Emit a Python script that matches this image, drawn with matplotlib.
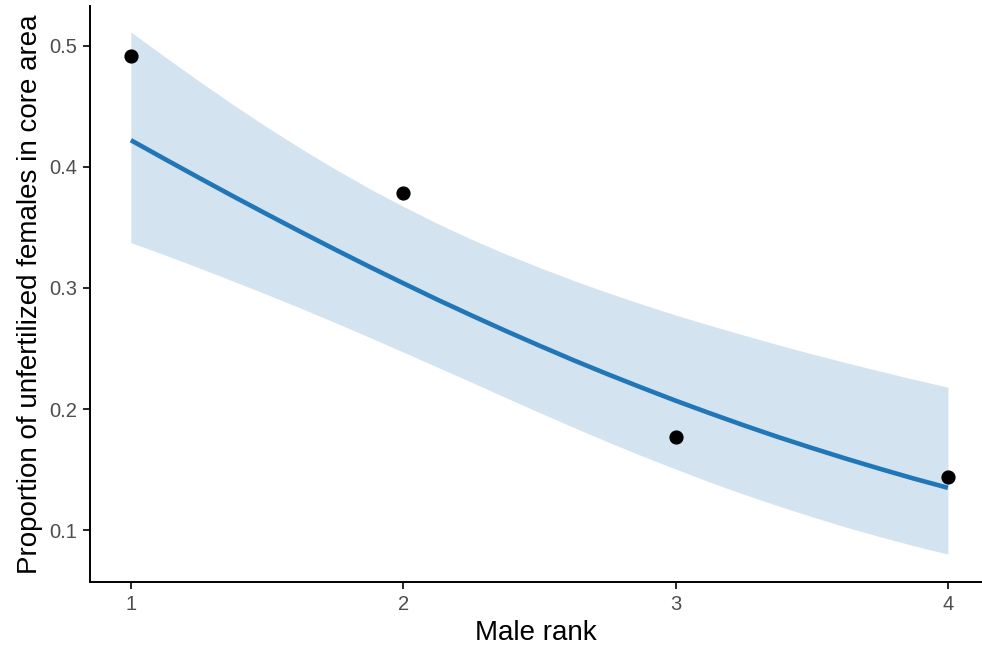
import matplotlib
matplotlib.use("Agg")
import matplotlib.pyplot as plt

plt.rcParams['font.family'] = ['Liberation Sans', 'DejaVu Sans']

# observed proportions per male rank
rank = [1, 2, 3, 4]
prop = [0.491, 0.378, 0.177, 0.144]

# fitted curve and confidence band
fit_x = [1, 1.125, 1.25, 1.375, 1.5, 1.625, 1.75, 1.875, 2, 2.125, 2.25, 2.375, 2.5,
         2.625, 2.75, 2.875, 3, 3.125, 3.25, 3.375, 3.5, 3.625, 3.75, 3.875, 4]
fit_y = [0.4219, 0.4063, 0.3909, 0.3757, 0.3608, 0.3461, 0.3317, 0.3176, 0.3039,
         0.2904, 0.2774, 0.2647, 0.2524, 0.2404, 0.2289, 0.2178, 0.2070,
         0.1967, 0.1867, 0.1771, 0.1680, 0.1592, 0.1508, 0.1427, 0.1351]
ci_hi = [0.5112, 0.4907, 0.4707, 0.4513, 0.4327, 0.4149, 0.3981, 0.3821, 0.3673,
         0.3532, 0.3402, 0.3281, 0.3169, 0.3062, 0.2962, 0.2867, 0.2777,
         0.2692, 0.2611, 0.2532, 0.2456, 0.2384, 0.2314, 0.2246, 0.2181]
ci_lo = [0.3374, 0.3272, 0.3166, 0.3057, 0.2946, 0.2832, 0.2714, 0.2594, 0.2471,
         0.2347, 0.2223, 0.2097, 0.1972, 0.1850, 0.1731, 0.1616, 0.1506,
         0.1399, 0.1298, 0.1203, 0.1113, 0.1027, 0.0948, 0.0873, 0.0804]

fig = plt.figure(figsize=(9.82, 6.49), dpi=100)
ax = fig.add_axes([90/982, 67/649, 892/982, 576/649])

ax.fill_between(fit_x, ci_lo, ci_hi, color='#d3e4f0', linewidth=0)
ax.plot(fit_x, fit_y, color='#2176b8', linewidth=3.3, solid_capstyle='butt')
ax.scatter(rank, prop, s=85, color='black', zorder=3)

ax.set_xlim(0.85, 4.125)
ax.set_ylim(0.0574, 0.5326)
ax.set_xticks([1, 2, 3, 4])
ax.set_yticks([0.1, 0.2, 0.3, 0.4, 0.5])
ax.set_xticklabels(['1', '2', '3', '4'])
ax.set_yticklabels(['0.1', '0.2', '0.3', '0.4', '0.5'])

for side in ['top', 'right']:
    ax.spines[side].set_visible(False)
for side in ['left', 'bottom']:
    ax.spines[side].set_linewidth(1.4)
ax.tick_params(axis='both', length=5, width=1.2, labelsize=14.5, labelcolor='#4d4d4d', pad=4)

ax.set_xlabel('Male rank', fontsize=20, labelpad=5)
ax.set_ylabel('Proportion of unfertilized females in core area', fontsize=20, labelpad=5)

fig.savefig('out.png', dpi=100)
